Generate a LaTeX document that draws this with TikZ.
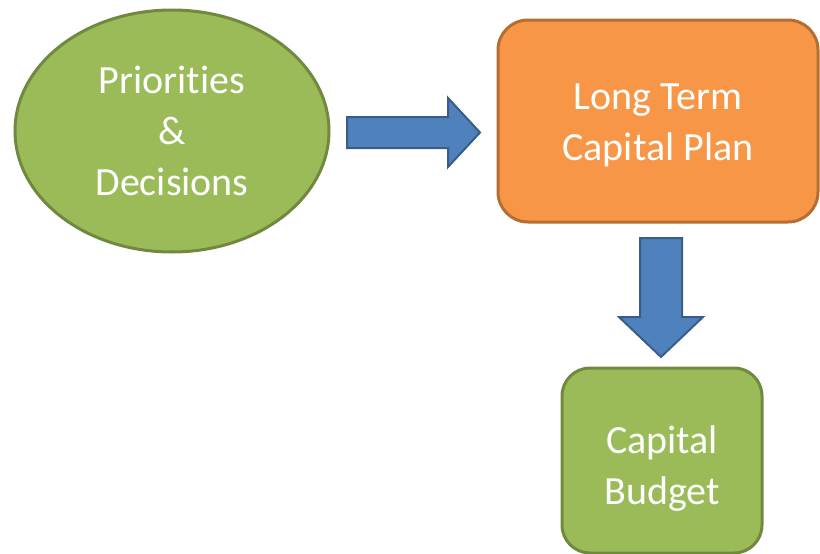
\documentclass[tikz,border=0pt]{standalone}
\usepackage{fontspec}
\setmainfont{Carlito}[Ligatures=NoCommon]
\usetikzlibrary{shapes.geometric}
\definecolor{ogreen}{HTML}{9BBB59}
\definecolor{ogreenD}{HTML}{71893F}
\definecolor{oorange}{HTML}{F79646}
\definecolor{oorangeD}{HTML}{B66D31}
\definecolor{oblue}{HTML}{4F81BD}
\definecolor{oblueD}{HTML}{385D8A}
\begin{document}
\begin{tikzpicture}[x=1pt,y=-1pt,
  txt/.style={text=white, font=\fontsize{40}{51}\selectfont, align=center},
  greenshape/.style={fill=ogreen, draw=ogreenD, line width=3pt},
  orangeshape/.style={fill=oorange, draw=oorangeD, line width=3pt},
  blockarrow/.style={fill=oblue, draw=oblueD, line width=2pt, line join=miter}]
\useasboundingbox (0,0) rectangle (820,554);
\node[ellipse, greenshape, minimum width=314pt, minimum height=242pt, inner sep=0pt] (pd) at (172,131) {};
\node[txt] (pdt) at (pd.center) {Priorities\\\&\\Decisions};
\node[rectangle, rounded corners=30pt, orangeshape, minimum width=320pt, minimum height=202pt] (lt) at (658,121) {};
\node[txt] (ltt) at ([yshift=-4pt]lt.center) {Long Term\\Capital Plan};
\node[rectangle, rounded corners=28pt, greenshape, minimum width=200pt, minimum height=185pt] (cb) at (662,460.5) {};
\node[txt] (cbt) at ([yshift=-8pt]cb.center) {Capital\\Budget};
% right block arrow (Priorities -> Plan)
\draw[blockarrow] (347,117) -- (448,117) -- (448,98) -- (480,132.5) -- (448,167) -- (448,148) -- (347,148) -- cycle;
% down block arrow (Plan -> Budget)
\draw[blockarrow] (640,238) -- (682,238) -- (682,317) -- (703,317) -- (661,357) -- (619,317) -- (640,317) -- cycle;
\end{tikzpicture}
\end{document}
